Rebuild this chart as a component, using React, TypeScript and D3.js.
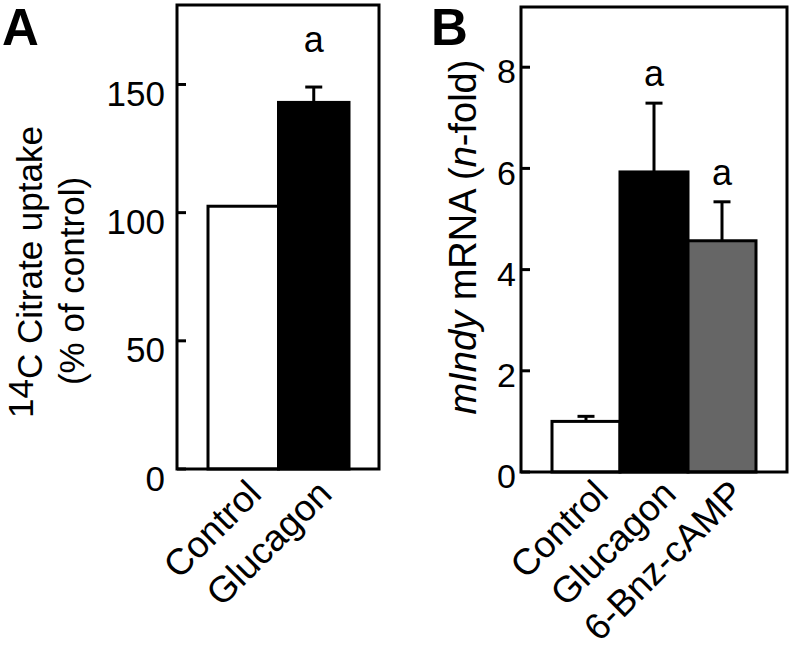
import React from "react";
import * as d3 from "d3";

// ---- Panel A data ----
const panelACategories = ["Control", "Glucagon"];
const panelAValues = [102.5, 143];
const panelAErrors = [0, 6];
const panelATicks = [0, 50, 100, 150];
const panelAColors = ["#ffffff", "#000000"];
const panelASig = ["", "a"];

// ---- Panel B data ----
const panelBCategories = ["Control", "Glucagon", "6-Bnz-cAMP"];
const panelBValues = [1.0, 5.93, 4.57];
const panelBErrors = [0.1, 1.36, 0.77];
const panelBTicks = [0, 2, 4, 6, 8];
const panelBColors = ["#ffffff", "#000000", "#666666"];
const panelBSig = ["", "a", "a"];

const FONT = "'Liberation Sans', Arial, Helvetica, sans-serif";

type PanelProps = {
  categories: string[];
  values: number[];
  errors: number[];
  ticks: number[];
  colors: string[];
  sig: string[];
  frame: { x0: number; x1: number; y0: number; y1: number };
  band: [number, number];
  yMax: number;
  tickFont: number;
  tickLabelX: number;
  tickLabelDy: number;
  sigOffset: number;
  xLabelDx: number;
  xLabelDy: number;
};

function Panel(p: PanelProps) {
  const { frame } = p;
  const y = d3.scaleLinear().domain([0, p.yMax]).range([frame.y1, frame.y0]);
  const x = d3.scaleBand<string>().domain(p.categories).range(p.band).padding(0);
  const bw = x.bandwidth();
  const capHalf = 8.5;
  return (
    <g>
      {p.categories.map((c, i) => {
        const x0 = x(c)!;
        const cx = x0 + bw / 2;
        const top = y(p.values[i]);
        const errTop = y(p.values[i] + p.errors[i]);
        return (
          <g key={c}>
            <rect
              x={x0}
              y={top}
              width={bw}
              height={y(0) - top}
              fill={p.colors[i]}
              stroke="#000"
              strokeWidth={3}
            />
            {p.errors[i] > 0 && (
              <g stroke="#000" strokeWidth={3}>
                <line x1={cx} x2={cx} y1={top} y2={errTop} />
                <line x1={cx - capHalf} x2={cx + capHalf} y1={errTop} y2={errTop} />
              </g>
            )}
            {p.sig[i] && (
              <text
                x={cx}
                y={errTop - p.sigOffset}
                textAnchor="middle"
                fontSize={36}
                fontFamily={FONT}
              >
                {p.sig[i]}
              </text>
            )}
            <text
              transform={`translate(${cx + p.xLabelDx},${frame.y1 + p.xLabelDy}) rotate(-45)`}
              textAnchor="end"
              fontSize={37}
              fontFamily={FONT}
            >
              {c}
            </text>
          </g>
        );
      })}
      {p.ticks.map((t) => (
        <g key={t}>
          <line x1={frame.x0} x2={frame.x0 + 9} y1={y(t)} y2={y(t)} stroke="#000" strokeWidth={3} />
          <text
            x={p.tickLabelX}
            y={y(t) + p.tickLabelDy + 0.36 * p.tickFont}
            textAnchor="end"
            fontSize={p.tickFont}
            fontFamily={FONT}
          >
            {t}
          </text>
        </g>
      ))}
      <rect
        x={frame.x0}
        y={frame.y0}
        width={frame.x1 - frame.x0}
        height={frame.y1 - frame.y0}
        fill="none"
        stroke="#000"
        strokeWidth={3}
      />
    </g>
  );
}

export default function App() {
  return (
    <svg
      width={791}
      height={652}
      style={{ position: "absolute", left: 0, top: 0, background: "#fff" }}
    >
      <rect x={0} y={0} width={791} height={652} fill="#fff" />
      {/* Panel letters */}
      <text x={2} y={45} fontSize={51} fontWeight="bold" fontFamily={FONT}>
        A
      </text>
      <text x={431} y={45} fontSize={51} fontWeight="bold" fontFamily={FONT}>
        B
      </text>

      {/* Panel A y-axis label */}
      <text
        transform="translate(42,272) rotate(-90)"
        textAnchor="middle"
        fontSize={35}
        fontFamily={FONT}
      >
        <tspan dy={-9}>14</tspan>
        <tspan dy={9}>C Citrate uptake</tspan>
      </text>
      <text
        transform="translate(84,281) rotate(-90)"
        textAnchor="middle"
        fontSize={35}
        fontFamily={FONT}
      >
        (% of control)
      </text>

      {/* Panel B y-axis label */}
      <text
        transform="translate(476,237) rotate(-90)"
        textAnchor="middle"
        fontSize={38}
        fontFamily={FONT}
      >
        <tspan fontStyle="italic">mIndy</tspan>
        <tspan> mRNA (</tspan>
        <tspan fontStyle="italic">n</tspan>
        <tspan>-fold)</tspan>
      </text>

      <Panel
        categories={panelACategories}
        values={panelAValues}
        errors={panelAErrors}
        ticks={panelATicks}
        colors={panelAColors}
        sig={panelASig}
        frame={{ x0: 177, x1: 379, y0: 5, y1: 469 }}
        band={[208, 349]}
        yMax={181}
        tickFont={35}
        tickLabelX={165}
        tickLabelDy={9}
        sigOffset={35}
        xLabelDx={20}
        xLabelDy={27}
      />
      <Panel
        categories={panelBCategories}
        values={panelBValues}
        errors={panelBErrors}
        ticks={panelBTicks}
        colors={panelBColors}
        sig={panelBSig}
        frame={{ x0: 521, x1: 787, y0: 7, y1: 472 }}
        band={[552, 756]}
        yMax={9.19}
        tickFont={34}
        tickLabelX={516}
        tickLabelDy={4}
        sigOffset={17}
        xLabelDx={24}
        xLabelDy={24}
      />
    </svg>
  );
}
